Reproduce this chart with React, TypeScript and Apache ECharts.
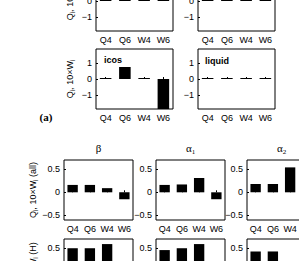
import React, { useEffect, useRef } from "react";
import * as echarts from "echarts";

// ---- data ----
const categories = ["Q4", "Q6", "W4", "W6"];
const row1LeftValues = [0, 0, 0, 0];
const row1RightValues = [0, 0, 0, 0];
const icosValues = [0, 0.75, 0, -2.0];
const liquidValues = [0, 0, 0, 0];
const betaAllValues = [0.16, 0.16, 0.09, -0.15];
const alpha1AllValues = [0.16, 0.17, 0.31, -0.15];
const alpha2AllValues = [0.18, 0.18, 0.54, -0.1];
const betaHValues = [0.5, 0.5, 0.59, -0.1];
const alpha1HValues = [0.46, 0.5, 0.59, -0.1];
const alpha2HValues = [0.43, 0.43, 0.1, -0.1];
const smallTicks = [-1, 0, 1];
const bigTicks = [-0.5, 0, 0.5];

const SANS = "Liberation Sans, Arial, sans-serif";
const SERIF = "Liberation Serif, Times New Roman, serif";

type Panel = {
  left: number;
  top: number;
  width: number;
  height: number;
  data: number[];
  min: number;
  max: number;
  ticks: number[];
};

// The chart canvas starts OFF pixels above the page so that the top row of
// panels (cut off in the reference) can be laid out with a positive top.
const OFF = 40;
const SW = 77;
const BW = 69;
const H = 60;
const smallLefts = [96, 198];
const bigLefts = [64, 156, 247];
const rowTops = [-29 + OFF, 49 + OFF, 160 + OFF, 239 + OFF];

const panels: Panel[] = [
  { left: smallLefts[0], top: rowTops[0], width: SW, height: H, data: row1LeftValues, min: -1.875, max: 1.875, ticks: smallTicks },
  { left: smallLefts[1], top: rowTops[0], width: SW, height: H, data: row1RightValues, min: -1.875, max: 1.875, ticks: smallTicks },
  { left: smallLefts[0], top: rowTops[1], width: SW, height: H, data: icosValues, min: -1.875, max: 1.875, ticks: smallTicks },
  { left: smallLefts[1], top: rowTops[1], width: SW, height: H, data: liquidValues, min: -1.875, max: 1.875, ticks: smallTicks },
  { left: bigLefts[0], top: rowTops[2], width: BW, height: H, data: betaAllValues, min: -0.6, max: 0.7, ticks: bigTicks },
  { left: bigLefts[1], top: rowTops[2], width: BW, height: H, data: alpha1AllValues, min: -0.6, max: 0.7, ticks: bigTicks },
  { left: bigLefts[2], top: rowTops[2], width: BW, height: H, data: alpha2AllValues, min: -0.6, max: 0.7, ticks: bigTicks },
  { left: bigLefts[0], top: rowTops[3], width: BW, height: H, data: betaHValues, min: -0.6, max: 0.7, ticks: bigTicks },
  { left: bigLefts[1], top: rowTops[3], width: BW, height: H, data: alpha1HValues, min: -0.6, max: 0.7, ticks: bigTicks },
  { left: bigLefts[2], top: rowTops[3], width: BW, height: H, data: alpha2HValues, min: -0.6, max: 0.7, ticks: bigTicks },
];

const fmt = (v: number) => (v === 0 ? "0" : String(v).replace("-", "\u2212"));

const yLabelRich = {
  a: { fontSize: 9, fontFamily: SANS, fill: "#000", lineHeight: 12 },
  s: { fontSize: 6.5, fontFamily: SANS, fill: "#000", lineHeight: 6, verticalAlign: "bottom" },
};

function yLabel(x: number, y: number, suffix: string) {
  return {
    type: "text",
    x,
    y: y + OFF,
    rotation: Math.PI / 2,
    silent: true,
    style: {
      text: `{a|Q}{s|i}{a|, 10×W}{s|i}${suffix ? `{a| ${suffix}}` : ""}`,
      rich: yLabelRich,
      align: "center",
      verticalAlign: "middle",
    },
  };
}

function title(x: number, y: number, letter: string, sub: string) {
  return {
    type: "text",
    x,
    y: y + OFF,
    silent: true,
    style: {
      text: sub ? `{g|${letter}}{s|${sub}}` : `{g|${letter}}`,
      rich: {
        g: { fontSize: 11, fontFamily: SERIF, fill: "#000", lineHeight: 14 },
        s: { fontSize: 7, fontFamily: SERIF, fill: "#000", lineHeight: 6, verticalAlign: "bottom" },
      },
      align: "center",
      verticalAlign: "middle",
    },
  };
}

export default function App() {
  const ref = useRef<HTMLDivElement>(null);
  useEffect(() => {
    if (!ref.current) return;
    const chart = echarts.init(ref.current, undefined, { renderer: "svg" });
    const option: any = {
      animation: false,
      backgroundColor: "#fff",
      grid: panels.map((p) => ({
        left: p.left,
        top: p.top,
        width: p.width,
        height: p.height,
        show: true,
        borderColor: "#000",
        borderWidth: 1,
        backgroundColor: "#fff",
        containLabel: false,
        outerBoundsMode: "none",
      })),
      xAxis: panels.map((p, i) => ({
        gridIndex: i,
        type: "category",
        data: categories,
        axisLine: { show: false },
        axisTick: { show: true, inside: true, alignWithLabel: true, length: 2, lineStyle: { color: "#000" } },
        axisLabel: { interval: 0, fontSize: 9, color: "#000", fontFamily: SANS, margin: 4, hideOverlap: false },
        splitLine: { show: false },
      })),
      yAxis: panels.map((p, i) => ({
        gridIndex: i,
        type: "value",
        min: p.min,
        max: p.max,
        axisLine: { show: false },
        axisTick: { show: true, inside: true, length: 2, customValues: p.ticks, lineStyle: { color: "#000" } },
        axisLabel: { customValues: p.ticks, formatter: fmt, fontSize: 9, color: "#000", fontFamily: SANS, margin: 4, showMinLabel: true, showMaxLabel: true },
        splitLine: { show: false },
      })),
      series: panels.map((p, i) => ({
        type: "bar",
        xAxisIndex: i,
        yAxisIndex: i,
        data: p.data,
        barWidth: "60%",
        barMinHeight: 1,
        clip: true,
        silent: true,
        itemStyle: { color: "#000" },
      })),
      graphic: [
        yLabel(70, 1, ""),
        yLabel(70, 79, ""),
        yLabel(33, 190, "(all)"),
        yLabel(33, 269, "(H)"),
        {
          type: "text",
          x: 46,
          y: 117 + OFF,
          silent: true,
          style: { text: "(a)", font: `bold 11px ${SERIF}`, fill: "#000", align: "center", verticalAlign: "middle" },
        },
        {
          type: "text",
          x: 104,
          y: 60 + OFF,
          silent: true,
          style: { text: "icos", font: `bold 9px ${SANS}`, fill: "#000", align: "left", verticalAlign: "middle" },
        },
        {
          type: "text",
          x: 205,
          y: 61 + OFF,
          silent: true,
          style: { text: "liquid", font: `bold 9px ${SANS}`, fill: "#000", align: "left", verticalAlign: "middle" },
        },
        title(bigLefts[0] + BW / 2, 148, "β", ""),
        title(bigLefts[1] + BW / 2, 148, "α", "1"),
        title(bigLefts[2] + BW / 2, 148, "α", "2"),
      ],
    };
    chart.setOption(option);
    return () => chart.dispose();
  }, []);
  return (
    <div
      ref={ref}
      style={{ position: "fixed", left: 0, top: -OFF, width: 299, height: 261 + OFF + 80, background: "#fff" }}
    />
  );
}
